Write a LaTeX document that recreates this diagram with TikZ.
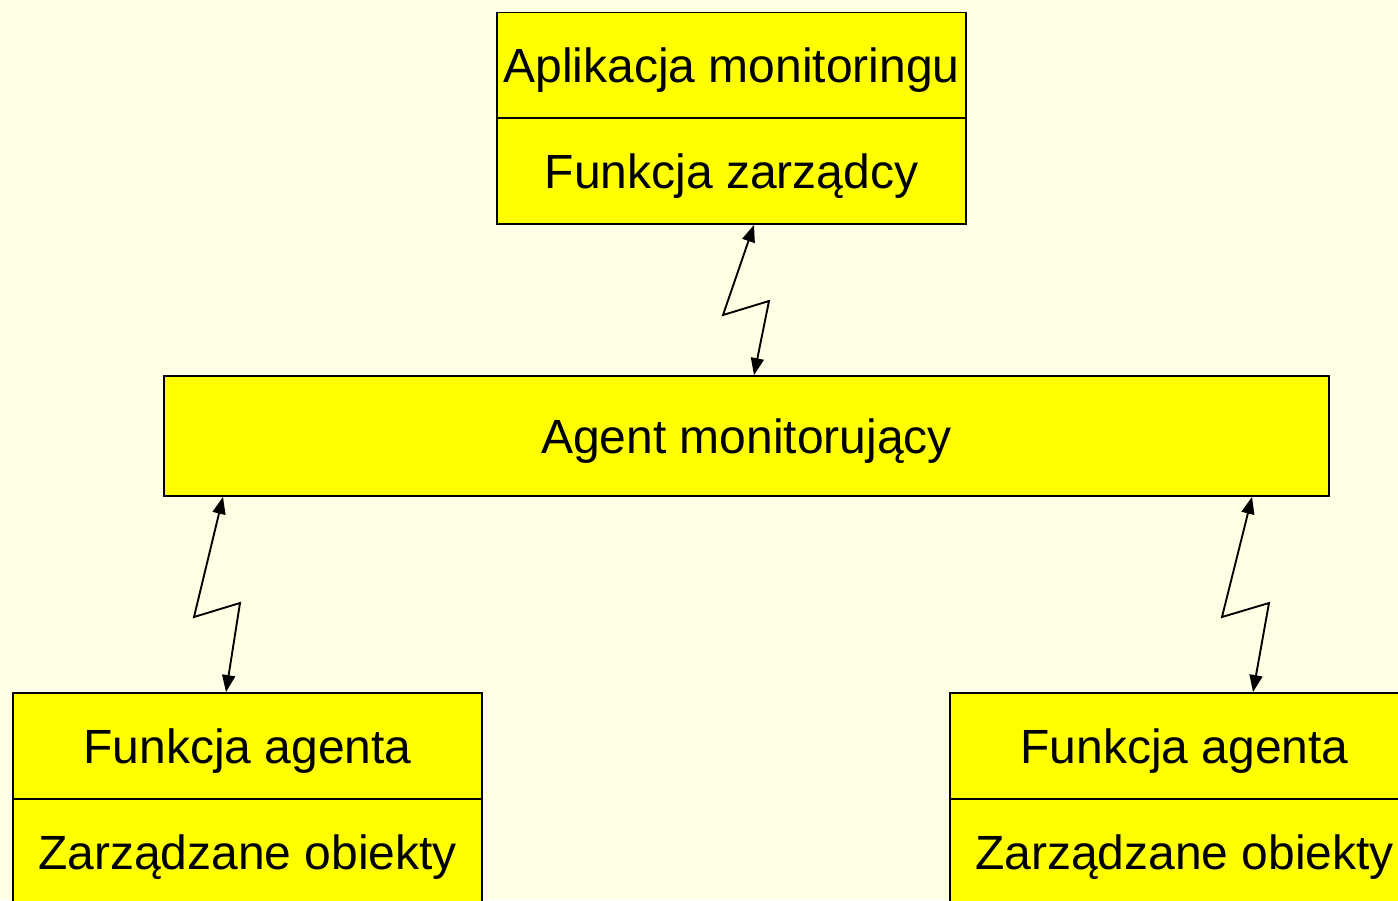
\documentclass[tikz,border=0pt]{standalone}
\usepackage{fontspec}
\setmainfont{Liberation Sans}
\usetikzlibrary{arrows.meta,calc}
\definecolor{bgc}{RGB}{255,255,229}
\definecolor{boxc}{RGB}{255,255,0}
\begin{document}
\begin{tikzpicture}[x=1pt,y=-1pt,
  box/.style={draw=black,line width=1.8pt,fill=boxc,inner sep=0pt,
    minimum width=469pt,minimum height=106pt,text height=34pt,text depth=0pt,
    font=\fontsize{48}{57}\selectfont},
  link/.style={line width=1.9pt,{Triangle[length=17pt,width=13pt]}-{Triangle[length=17pt,width=13pt]}}]
\path[fill=bgc] (0,0) rectangle (1398,900);
\useasboundingbox (0,0) rectangle (1398,900);
% top
\node[box] (app) at (731.5,65.5) {Aplikacja monitoringu};
\node[box] (mgr) at (731.5,171) {Funkcja zarządcy};
% agent
\node[box,minimum width=1165pt,minimum height=120pt] (agent) at (746.5,436) {Agent monitorujący};
% bottom left
\node[box] (fa1) at (247.5,746) {Funkcja agenta};
\node[box] (mo1) at (247.5,852) {Zarządzane obiekty};
% bottom right
\node[box] (fa2) at (1184.5,746) {Funkcja agenta};
\node[box] (mo2) at (1184.5,852) {Zarządzane obiekty};
% lightning links
\draw[link] (754,0 |- mgr.south) -- (723,315) -- (769,301) -- (754,0 |- agent.north);
\draw[link] (223,0 |- agent.south) -- (194,617) -- (240,603) -- (226,0 |- fa1.north);
\draw[link] (1252,0 |- agent.south) -- (1222,617) -- (1269,603) -- (1253,0 |- fa2.north);
\end{tikzpicture}
\end{document}
